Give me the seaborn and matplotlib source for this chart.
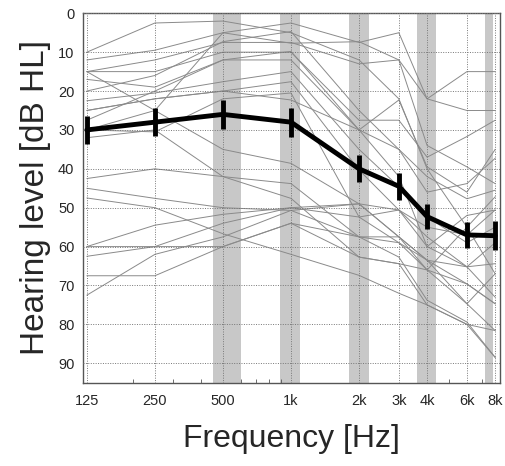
import matplotlib
matplotlib.use('Agg')
import matplotlib.pyplot as plt
from matplotlib.ticker import FixedLocator, NullFormatter
import seaborn as sns
import pandas as pd

freqs = [125, 250, 500, 1000, 2000, 3000, 4000, 6000, 8000]
freq_labels = ['125', '250', '500', '1k', '2k', '3k', '4k', '6k', '8k']

# individual audiograms (dB HL at each frequency)
subjects = [
    [10, 2.5, 2, 5, 12, 22, 40, 55, 67],
    [12, 9.5, 5, 2.5, 7.5, 5, 22, 15, 15],
    [15, 12, 7.5, 7.5, 13, 12, 22, 25, 25],
    [15, 15, 10, 10, 27.5, 27.5, 37, 31.7, 27.5],
    [15, 25, 35, 38.6, 49, 57.5, 63.5, 69.6, 74.7],
    [17, 19, 12, 9.8, 30, 35, 46, 43.8, 37.3],
    [20, 16, 7.3, 4.7, 25, 35, 42, 47.7, 45.5],
    [22.5, 20.5, 17.6, 15, 35, 44.6, 52.4, 59, 55],
    [25, 22, 20, 17.6, 40.3, 50.6, 57.5, 65.2, 73],
    [27.5, 20, 12, 12, 30, 42, 60, 52, 50.6],
    [30, 30.5, 22, 20.5, 52.4, 59, 66, 74.7, 81.6],
    [32, 30, 42, 43.8, 57.5, 62.7, 73.8, 79.4, 88.5],
    [42.5, 40, 42, 47.6, 62.7, 64.4, 75, 80, 81.6],
    [45, 47.6, 50, 50.7, 57.5, 57.5, 63.5, 65.2, 59],
    [47.5, 50, 56.7, 62, 67.4, 72, 75, 80, 88.5],
    [60, 54.5, 51.7, 50, 52.4, 50.6, 55, 57, 50.6],
    [60, 60, 60, 54, 62.7, 64.4, 66, 69.6, 74.7],
    [62.5, 60, 54, 50, 49, 50.6, 60, 65.2, 64.4],
    [67.5, 67.5, 60, 54, 57.5, 59, 63.5, 74.7, 67],
    [72.5, 62, 57.5, 50.7, 49, 57.5, 66, 55, 47.2],
    [30, 25, 5, 7.7, 7.3, 12, 34, 39.5, 43.8],
    [25, 22, 20, 22.3, 30, 22.3, 39.5, 46, 35],
]

mean_level = [30, 28, 26, 28, 40, 44.5, 52.3, 57, 57.2]
mean_err = [3.5, 3.6, 3.7, 3.7, 3.5, 3.5, 3.3, 3.4, 3.8]

# shaded frequency bands
bands = [(454, 603), (897, 1099), (1806, 2214), (3600, 4400), (7200, 7830)]

rows = []
for i, s in enumerate(subjects):
    for f, v in zip(freqs, s):
        rows.append({'subject': i, 'freq': f, 'level': v})
df = pd.DataFrame(rows)
mean_df = pd.DataFrame({'freq': freqs, 'level': mean_level})

sns.set_style('white')
plt.rcParams['font.family'] = ['Liberation Sans', 'DejaVu Sans']

fig = plt.figure(figsize=(5.05, 4.66), dpi=100)
ax = fig.add_axes([0.164, 0.1788, 0.826, 0.7927])

for lo, hi in bands:
    ax.axvspan(lo, hi, color='#c8c8c8', zorder=0, lw=0)

sns.lineplot(data=df, x='freq', y='level', units='subject', estimator=None,
             color='#8a8a8a', lw=0.7, ax=ax, zorder=2)
sns.lineplot(data=mean_df, x='freq', y='level', color='black', lw=3.5,
             ax=ax, zorder=4)
ax.errorbar(freqs, mean_level, yerr=mean_err, fmt='none', ecolor='black',
            elinewidth=3.5, capsize=0, zorder=5)

ax.set_xscale('log')
ax.set_xlim(120, 8400)
ax.set_ylim(95, 0)
ax.xaxis.set_major_locator(FixedLocator(freqs))
ax.set_xticklabels(freq_labels)
ax.xaxis.set_minor_locator(FixedLocator([200, 300, 400, 600, 700, 800, 900, 5000, 7000]))
ax.xaxis.set_minor_formatter(NullFormatter())
ax.set_yticks(range(0, 100, 10))

ax.grid(True, which='major', color='#777777', linestyle=(0, (1, 1.5)), lw=0.7, zorder=1)
ax.set_axisbelow(False)
for sp in ax.spines.values():
    sp.set_color('#555555')
    sp.set_linewidth(1.0)

ax.tick_params(axis='both', which='major', labelsize=10.5, length=0, pad=6)
ax.tick_params(axis='x', which='minor', direction='in', length=3, color='#555555', bottom=True)
ax.tick_params(axis='x', which='major', pad=8)

ax.set_xlabel('Frequency [Hz]', fontsize=23, labelpad=12)
ax.set_ylabel('Hearing level [dB HL]', fontsize=24, labelpad=5)

fig.savefig('out.png', dpi=100)
